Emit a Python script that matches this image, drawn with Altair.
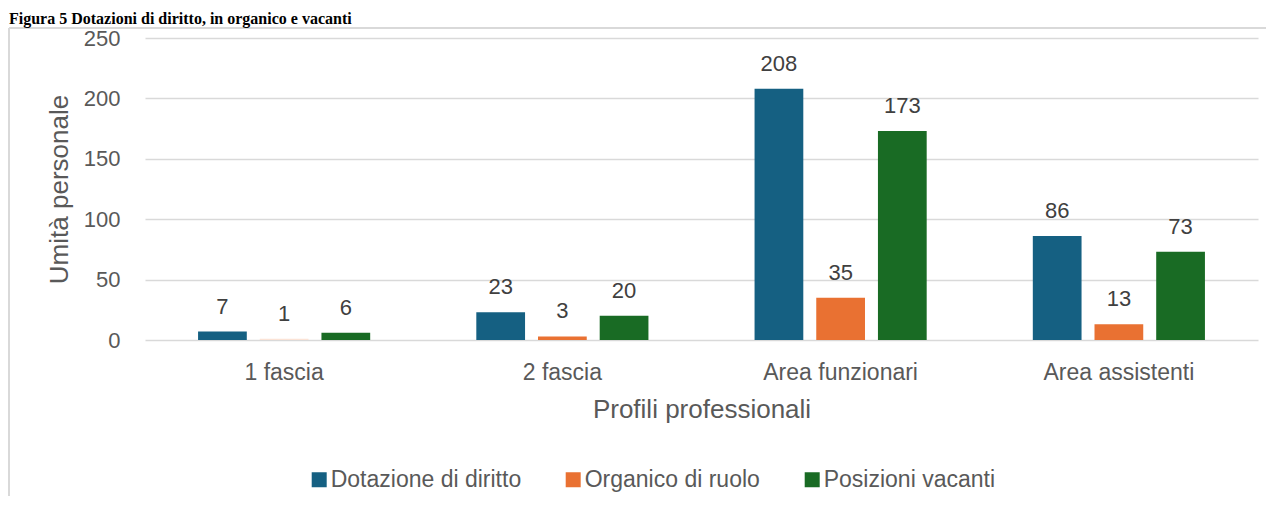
import altair as alt
import pandas as pd

categories = ["1 fascia", "2 fascia", "Area funzionari", "Area assistenti"]
series = ["Dotazione di diritto", "Organico di ruolo", "Posizioni vacanti"]
dotazione = [7, 23, 208, 86]
organico = [1, 3, 35, 13]
vacanti = [6, 20, 173, 73]
colors = ["#156082", "#E97132", "#196B24"]
title_text = "Figura 5 Dotazioni di diritto, in organico e vacanti"

rows = []
for s, vals in zip(series, [dotazione, organico, vacanti]):
    for c, v in zip(categories, vals):
        rows.append({"profilo": c, "serie": s, "valore": v})
df = pd.DataFrame(rows)

GRID = "#d9d9d9"
TXT = "#595959"
FONT = "Liberation Sans"

x_enc = alt.X("profilo:N", sort=categories,
              scale=alt.Scale(paddingInner=0, paddingOuter=0),
              axis=alt.Axis(title="Profili professionali", labelAngle=0,
                            labelFontSize=23, labelColor=TXT, labelFont=FONT,
                            labelPadding=21, ticks=False, domain=False,
                            titleFontSize=26, titleColor=TXT, titleFont=FONT,
                            titleFontWeight="normal", titleY=77,
                            titleBaseline="alphabetic"))
xo_enc = alt.XOffset("serie:N", sort=series,
                     scale=alt.Scale(paddingInner=0.21, paddingOuter=0.86))
y_enc = alt.Y("valore:Q",
              scale=alt.Scale(domain=[0, 250], nice=False),
              axis=alt.Axis(title="Umità  personale", values=[0, 50, 100, 150, 200, 250],
                            labelFontSize=22, labelColor=TXT, labelFont=FONT,
                            labelPadding=25, ticks=False, domain=False,
                            gridColor=GRID, gridWidth=1.5,
                            titleFontSize=26, titleColor=TXT, titleFont=FONT,
                            titleFontWeight="normal", titleAngle=-90,
                            titleX=-86, titleY=151, titleAlign="center",
                            titleBaseline="middle"))

color_enc = alt.condition(
    "datum.profilo == '1 fascia' && datum.serie == 'Organico di ruolo'",
    alt.value("#FBE3D6"),
    alt.Color("serie:N", sort=series,
              scale=alt.Scale(domain=series, range=colors),
              legend=alt.Legend(title=None, orient="none", direction="horizontal",
                                legendX=162.7, legendY=430, padding=0,
                                symbolType="square", symbolSize=225,
                                symbolStrokeWidth=0, labelFontSize=23,
                                labelFont=FONT, labelColor=TXT, labelLimit=400,
                                labelOffset=0, columnPadding=40)))

bars = alt.Chart(df).mark_bar().encode(
    x=x_enc, xOffset=xo_enc, y=y_enc, color=color_enc
)

labels = alt.Chart(df).mark_text(
    dy=-18, baseline="alphabetic", fontSize=22, font=FONT, color="#404040"
).encode(
    x=alt.X("profilo:N", sort=categories), xOffset=alt.XOffset("serie:N", sort=series),
    y="valore:Q", text="valore:Q"
)

frame_left = alt.Chart(df).mark_rule(color=GRID, strokeWidth=1.5).encode(
    x=alt.value(-136), y=alt.value(-10), y2=alt.value(480)
)
frame_top = alt.Chart(df).mark_rule(color=GRID, strokeWidth=1.5).encode(
    x=alt.value(-136), x2=alt.value(1125), y=alt.value(-10)
)
title = alt.Chart(pd.DataFrame({"t": [title_text]})).mark_text(
    align="left", baseline="alphabetic", fontSize=16, font="Liberation Serif",
    fontWeight="bold", color="#000000"
).encode(x=alt.value(-136), y=alt.value(-14.5), text="t:N")

chart = alt.layer(frame_left, frame_top, bars, labels, title).properties(
    width=1113, height=302,
    padding={"left": 137, "top": 30, "right": 8, "bottom": 156},
    autosize=alt.AutoSizeParams(type="none"),
    background="white",
).configure_view(stroke=None)

chart.save("out.html", embed_options={"renderer": "svg", "actions": False})
